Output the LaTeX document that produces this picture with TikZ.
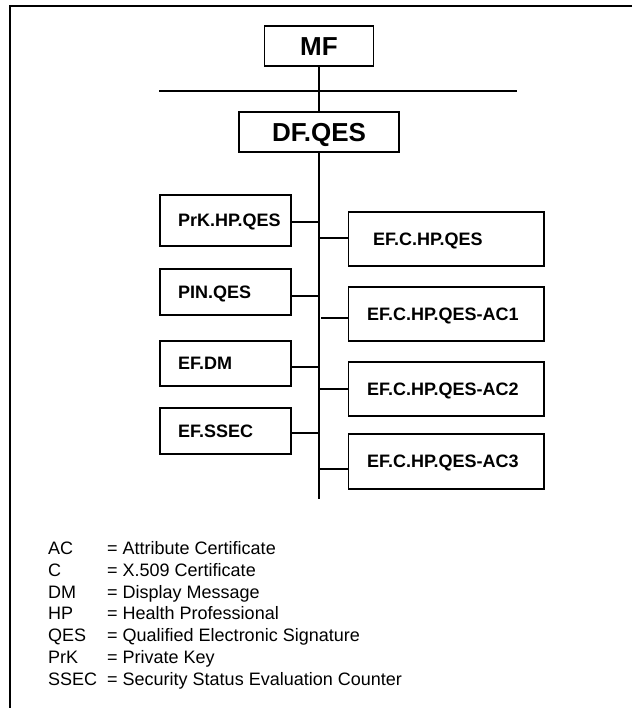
\documentclass[tikz,border=0pt]{standalone}
\usepackage{fontspec}
\setmainfont{Liberation Sans}
\begin{document}
\begin{tikzpicture}[x=1pt,y=-1pt,
  frameline/.style={line width=1.8pt},
  wire/.style={line width=1.2pt},
  box/.style={draw, line width=1.2pt, inner sep=0pt,
    font=\fontsize{18}{20}\selectfont\bfseries,
    text height=12.9pt, text depth=0pt},
  topbox/.style={box, font=\fontsize{26}{30}\selectfont\bfseries,
    text height=18.6pt, minimum height=40pt},
  legend/.style={inner sep=0pt, anchor=base west,
    font=\fontsize{18}{20}\selectfont}]
\useasboundingbox (0,0) rectangle (632,708);

% open frame: top edge and left edge
\coordinate (fa) at (10,6);
\coordinate (fb) at (632,6);
\coordinate (fc) at (10,708);
\draw[frameline] (fb) -- (fa) -- (fc);

% master file and dedicated file
\node[topbox, minimum width=109pt] (mf) at (319,46) {MF};
\node[topbox, minimum width=160pt] (df) at (319,132) {DF.QES};
\coordinate (hl) at (159,91);
\coordinate (hr) at (517,91);
\draw[wire] (hl) -- (hr);
\draw[wire] (mf.south) -- (df.north);

% trunk below DF.QES
\coordinate (tend) at (319,499);
\draw[wire] (df.south) -- (tend);

% left column of elementary files / keys
\node[box, minimum height=51pt] (prk) at (225.5,220.5)
  {\makebox[131pt][l]{\hspace*{18pt}PrK.HP.QES}};
\node[box, minimum height=46pt] (pin) at (225.5,292)
  {\makebox[131pt][l]{\hspace*{18pt}PIN.QES}};
\node[box, minimum height=45pt] (dm) at (225.5,363.5)
  {\makebox[131pt][l]{\hspace*{18pt}EF.DM}};
\node[box, minimum height=46pt] (ssec) at (225.5,431)
  {\makebox[131pt][l]{\hspace*{18pt}EF.SSEC}};

% right column of certificates
\node[box, minimum height=54pt] (rc0) at (446.25,239)
  {\makebox[195.5pt][l]{\hspace*{24.5pt}EF.C.HP.QES}};
\node[box, minimum height=54pt] (rc1) at (446.25,314)
  {\makebox[195.5pt][l]{\hspace*{18.5pt}EF.C.HP.QES-AC1}};
\node[box, minimum height=54pt] (rc2) at (446.25,389)
  {\makebox[195.5pt][l]{\hspace*{18.5pt}EF.C.HP.QES-AC2}};
\node[box, minimum height=55pt] (rc3) at (446.25,461.5)
  {\makebox[195.5pt][l]{\hspace*{18.5pt}EF.C.HP.QES-AC3}};

% junctions on the trunk
\coordinate (j1) at (319,222);
\coordinate (j2) at (319,296);
\coordinate (j3) at (319,367);
\coordinate (j4) at (319,433);
\coordinate (k1) at (319,238);
\coordinate (k2) at (321,318);
\coordinate (k3) at (319,389);
\coordinate (k4) at (319,469);

\draw[wire] (prk.east |- j1) -- (j1);
\draw[wire] (pin.east |- j2) -- (j2);
\draw[wire] (dm.east |- j3) -- (j3);
\draw[wire] (ssec.east |- j4) -- (j4);
\draw[wire] (k1) -- (k1 -| rc0.west);
\draw[wire] (k2) -- (k2 -| rc1.west);
\draw[wire] (k3) -- (k3 -| rc2.west);
\draw[wire] (k4) -- (k4 -| rc3.west);

% abbreviations
\foreach \i/\ab/\txt in {1/AC/Attribute Certificate,
                        2/C/X.509 Certificate,
                        3/DM/Display Message,
                        4/HP/Health Professional,
                        5/QES/Qualified Electronic Signature,
                        6/PrK/Private Key,
                        7/SSEC/Security Status Evaluation Counter}
  \node[legend] (leg\i) at (48,{554.5+21.8*(\i-1)})
    {\makebox[59pt][l]{\ab}= \txt};
\end{tikzpicture}
\end{document}
